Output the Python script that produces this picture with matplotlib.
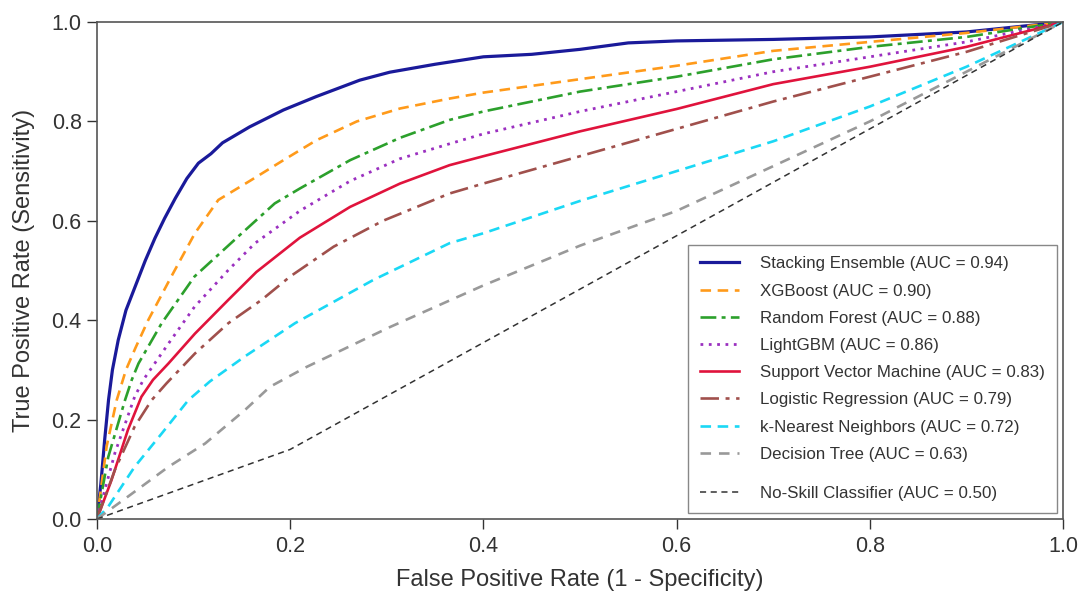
import matplotlib
matplotlib.use("Agg")
import matplotlib.pyplot as plt
from matplotlib.offsetbox import DrawingArea

plt.rcParams['font.family'] = ['Liberation Sans', 'DejaVu Sans']

# --- ROC points ---
stack_fpr = [0, 0.004, 0.008, 0.012, 0.016, 0.022, 0.03, 0.04, 0.05, 0.06, 0.07, 0.081, 0.093, 0.105,
             0.118, 0.13, 0.158, 0.193, 0.227, 0.272, 0.303, 0.35, 0.4, 0.45, 0.5, 0.55, 0.6, 0.7,
             0.8, 0.9, 1.0]
stack_tpr = [0, 0.07, 0.16, 0.24, 0.30, 0.36, 0.42, 0.47, 0.52, 0.565, 0.605, 0.645, 0.685, 0.716,
             0.735, 0.757, 0.789, 0.823, 0.85, 0.883, 0.899, 0.915, 0.93, 0.935, 0.945, 0.958, 0.962, 0.965,
             0.97, 0.98, 1.0]

xgb_fpr = [0, 0.01, 0.0204, 0.03, 0.04, 0.053, 0.077, 0.1014, 0.1256, 0.158, 0.193, 0.227, 0.269,
           0.3137, 0.365, 0.4, 0.5, 0.6, 0.7, 0.8, 0.9, 1.0]
xgb_tpr = [0, 0.146, 0.239, 0.30, 0.345, 0.40, 0.488, 0.575, 0.642, 0.68, 0.722, 0.762, 0.80,
           0.826, 0.846, 0.858, 0.885, 0.912, 0.942, 0.96, 0.978, 1.0]

rf_fpr = [0, 0.0117, 0.029, 0.036, 0.043, 0.067, 0.101, 0.146, 0.184, 0.21, 0.262, 0.3137, 0.365,
          0.4, 0.5, 0.6, 0.7, 0.8, 0.9, 1.0]
rf_tpr = [0, 0.125, 0.239, 0.28, 0.313, 0.394, 0.488, 0.568, 0.635, 0.665, 0.722, 0.767, 0.803,
          0.82, 0.86, 0.89, 0.925, 0.95, 0.97, 1.0]

lgbm_fpr = [0, 0.0186, 0.039, 0.048, 0.074, 0.101, 0.136, 0.1636, 0.21, 0.262, 0.3137, 0.365,
            0.4, 0.5, 0.6, 0.7, 0.8, 0.9, 1.0]
lgbm_tpr = [0, 0.133, 0.246, 0.28, 0.353, 0.427, 0.501, 0.555, 0.62, 0.68, 0.725, 0.755,
            0.775, 0.82, 0.86, 0.90, 0.93, 0.96, 1.0]

svm_fpr = [0, 0.015, 0.032, 0.046, 0.058, 0.074, 0.1014, 0.136, 0.165, 0.21, 0.262, 0.3137, 0.365,
           0.4, 0.5, 0.6, 0.7, 0.8, 0.9, 1.0]
svm_tpr = [0, 0.078, 0.179, 0.246, 0.28, 0.313, 0.373, 0.441, 0.497, 0.566, 0.628, 0.675, 0.712,
           0.73, 0.78, 0.825, 0.875, 0.91, 0.95, 1.0]

lr_fpr = [0, 0.0186, 0.039, 0.0565, 0.072, 0.1014, 0.136, 0.1705, 0.2, 0.245, 0.296, 0.365,
          0.4, 0.5, 0.6, 0.7, 0.8, 0.9, 1.0]
lr_tpr = [0, 0.099, 0.186, 0.239, 0.273, 0.333, 0.394, 0.441, 0.488, 0.548, 0.60, 0.655,
          0.675, 0.73, 0.785, 0.84, 0.89, 0.94, 1.0]

knn_fpr = [0, 0.0117, 0.039, 0.067, 0.0945, 0.117, 0.153, 0.205, 0.286, 0.365, 0.4, 0.5, 0.6,
           0.7, 0.8, 0.9, 1.0]
knn_tpr = [0, 0.025, 0.105, 0.172, 0.239, 0.277, 0.327, 0.394, 0.481, 0.555, 0.575, 0.64, 0.70,
           0.76, 0.83, 0.91, 1.0]

dt_fpr = [0, 0.032, 0.074, 0.112, 0.153, 0.179, 0.217, 0.303, 0.4, 0.5, 0.6, 0.7, 0.8, 0.9, 1.0]
dt_tpr = [0, 0.045, 0.105, 0.152, 0.219, 0.266, 0.306, 0.386, 0.47, 0.55, 0.62, 0.71, 0.80, 0.90, 1.0]

noskill_fpr = [0, 0.2, 1.0]
noskill_tpr = [0, 0.14, 1.0]

labels = ["Stacking Ensemble (AUC = 0.94)", "XGBoost (AUC = 0.90)", "Random Forest (AUC = 0.88)",
          "LightGBM (AUC = 0.86)", "Support Vector Machine (AUC = 0.83)", "Logistic Regression (AUC = 0.79)",
          "k-Nearest Neighbors (AUC = 0.72)", "Decision Tree (AUC = 0.63)", "No-Skill Classifier (AUC = 0.50)"]

fig = plt.figure(figsize=(10.81, 5.92), dpi=100)
ax = fig.add_axes([0.0897, 0.1233, 0.8937, 0.8395])

curves = [
    (stack_fpr, stack_tpr, dict(color='#1a1a9a', lw=2.3, ls='-')),
    (xgb_fpr, xgb_tpr, dict(color='#ff9a1a', lw=1.9, ls=(0, (4, 2.5)))),
    (rf_fpr, rf_tpr, dict(color='#2ca02c', lw=1.9, ls=(0, (6, 2, 1.5, 2)))),
    (lgbm_fpr, lgbm_tpr, dict(color='#9b30c0', lw=2.0, ls=(0, (1, 2)))),
    (svm_fpr, svm_tpr, dict(color='#e0133c', lw=1.9, ls='-')),
    (lr_fpr, lr_tpr, dict(color='#a0504c', lw=1.9, ls=(0, (7, 2.5, 1.5, 2.5)))),
    (knn_fpr, knn_tpr, dict(color='#1ad8f5', lw=1.9, ls=(0, (4, 2.5)))),
    (dt_fpr, dt_tpr, dict(color='#999999', lw=1.9, ls=(0, (4, 3)))),
]

handles = []
for (fx, fy, st), lab in zip(curves, labels[:8]):
    h, = ax.plot(fx, fy, label=lab, **st)
    handles.append(h)
h_ns, = ax.plot(noskill_fpr, noskill_tpr, color='#333333', lw=1.1, ls=(0, (4, 3)), label=labels[8])

leg = ax.legend(handles + [h_ns], labels,
                loc='lower right', fontsize=12.2, frameon=True, fancybox=False,
                edgecolor='#888888', framealpha=1, handlelength=2.3, handleheight=0.7,
                handletextpad=1.25, labelspacing=0.72, borderpad=0.7, borderaxespad=0.35)
leg.get_frame().set_linewidth(1.0)
for t in leg.get_texts():
    t.set_color('#333333')

# extra gap before the no-skill entry: a zero-height row adds one more separator
try:
    col = leg._legend_handle_box.get_children()[0]
    col.get_children().insert(8, DrawingArea(0, 0))
except Exception:
    pass

ax.set_xlim(0, 1)
ax.set_ylim(0, 1)
ax.set_xticks([0, 0.2, 0.4, 0.6, 0.8, 1.0])
ax.set_yticks([0, 0.2, 0.4, 0.6, 0.8, 1.0])
ax.tick_params(direction='out', length=7, width=1, labelsize=15.5, colors='#333333')
ax.tick_params(axis='x', pad=5)
ax.tick_params(axis='y', pad=4)
for s in ax.spines.values():
    s.set_color('#555555')
    s.set_linewidth(1.2)
ax.set_xlabel("False Positive Rate (1 - Specificity)", fontsize=17, color='#333333', labelpad=9)
ax.set_ylabel("True Positive Rate (Sensitivity)", fontsize=17, color='#333333', labelpad=12)

fig.savefig("out.png", dpi=100)
